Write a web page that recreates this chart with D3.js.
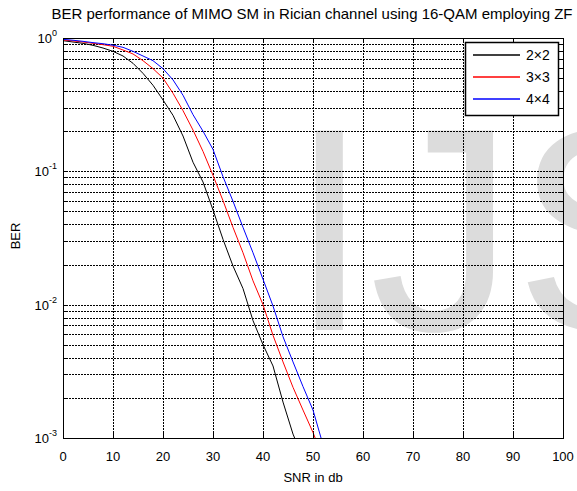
<!DOCTYPE html>
<html>
<head>
<meta charset="utf-8">
<script src="https://cdn.jsdelivr.net/npm/d3@7"></script>
<style>
  body { margin: 0; background: #fff; }
  svg { display: block; font-family: "Liberation Sans", Arial, sans-serif; }
</style>
</head>
<body>
<div id="vis"></div>
<script>
// BER vs SNR, MIMO SM en canal Rician (16-QAM, ZF)
const width = 577, height = 491;

// datos
const SNR = [0,2,4,6,8,10,12,14,16,18,20,22,24,26,28,30,32,34,36,38,40,42,44,46,48,50,52];
const BER_2x2 = [0.955,0.933,0.912,0.881,0.841,0.794,0.733,0.646,0.543,0.442,0.343,0.263,0.184,
  0.117,0.0832,0.0513,0.0309,0.0195,0.0132,0.00759,0.00501,0.00347,0.00186,0.00107,0.000708];
const BER_3x3 = [0.966,0.951,0.933,0.912,0.891,0.867,0.813,0.759,0.676,0.589,0.501,0.385,0.285,
  0.204,0.141,0.0933,0.0603,0.0380,0.0245,0.0151,0.0100,0.00589,0.00372,0.00240,0.00162,0.00110,0.000708];
const BER_4x4 = [0.977,0.962,0.944,0.923,0.906,0.883,0.851,0.794,0.733,0.676,0.589,0.485,0.372,
  0.266,0.200,0.146,0.0912,0.0596,0.0380,0.0245,0.0155,0.00977,0.00575,0.00372,0.00243,0.00162,0.000891];
const LABELS = ["2×2", "3×3", "4×4"];
const X_TICKS = [0,10,20,30,40,50,60,70,80,90,100];
const Y_TICKS = [1, 0.1, 0.01, 0.001];
const Y_EXP = ["0", "-1", "-2", "-3"];

const series = [BER_2x2, BER_3x3, BER_4x4].map((v, i) => ({
  name: LABELS[i],
  pts: v.map((b, j) => [SNR[j], b])
}));

const color = d3.scaleOrdinal().domain(LABELS).range(["#000000", "#ff0000", "#0000ff"]);

const L = 63, R = 563, T = 38, B = 438;
const x = d3.scaleLinear().domain([0, 100]).range([L, R]);
const y = d3.scaleLog().domain([1e-3, 1]).range([B, T]);

const svg = d3.select("#vis").append("svg")
  .attr("width", width).attr("height", height)
  .attr("viewBox", [0, 0, width, height]);

svg.append("rect").attr("width", width).attr("height", height).attr("fill", "#fff");

// marca de agua
svg.append("text")
  .attr("x", 289).attr("y", 330)
  .attr("font-size", 290)
  .attr("fill", "#dcdcdc")
  .text("IJSER");

// rejilla
const minor = [];
[0.001, 0.01, 0.1].forEach(d => { for (let k = 2; k <= 9; k++) minor.push(d * k); });
const yGrid = Y_TICKS.concat(minor);

const gGrid = svg.append("g")
  .attr("stroke", "#000").attr("stroke-width", 1)
  .attr("stroke-dasharray", "2,1").attr("shape-rendering", "crispEdges");

gGrid.selectAll("line.h").data(yGrid).enter().append("line")
  .attr("class", "h")
  .attr("x1", L).attr("x2", R)
  .attr("y1", d => Math.round(y(d)) + 0.5).attr("y2", d => Math.round(y(d)) + 0.5);

gGrid.selectAll("line.v").data(X_TICKS.slice(1, -1)).enter().append("line")
  .attr("class", "v")
  .attr("y1", T).attr("y2", B)
  .attr("x1", d => Math.round(x(d)) + 0.5).attr("x2", d => Math.round(x(d)) + 0.5);

// curvas
svg.append("clipPath").attr("id", "clip")
  .append("rect").attr("x", L).attr("y", T).attr("width", R - L).attr("height", B - T);

const line = d3.line().x(d => x(d[0])).y(d => y(d[1]));

svg.append("g").attr("clip-path", "url(#clip)")
  .selectAll("path").data(series).enter().append("path")
  .attr("d", d => line(d.pts))
  .attr("fill", "none")
  .attr("stroke", d => color(d.name))
  .attr("stroke-width", 1);

// ejes (caja con ticks hacia dentro)
const gAx = svg.append("g").attr("stroke", "#000").attr("shape-rendering", "crispEdges");
gAx.append("rect")
  .attr("x", L + 0.5).attr("y", T + 0.5)
  .attr("width", R - L).attr("height", B - T)
  .attr("fill", "none").attr("stroke-width", 1);

const tk = 5;
X_TICKS.forEach(d => {
  const px = Math.round(x(d)) + 0.5;
  gAx.append("line").attr("x1", px).attr("x2", px).attr("y1", B).attr("y2", B - tk);
  gAx.append("line").attr("x1", px).attr("x2", px).attr("y1", T).attr("y2", T + tk);
});
yGrid.forEach(d => {
  const py = Math.round(y(d)) + 0.5;
  const len = Y_TICKS.includes(d) ? tk : 3;
  gAx.append("line").attr("x1", L).attr("x2", L + len).attr("y1", py).attr("y2", py);
  gAx.append("line").attr("x1", R).attr("x2", R - len).attr("y1", py).attr("y2", py);
});

// etiquetas de ticks
svg.append("g").selectAll("text").data(X_TICKS).enter().append("text")
  .attr("x", d => x(d)).attr("y", 461)
  .attr("text-anchor", "middle").attr("font-size", 13)
  .text(d => d);

const yl = svg.append("g").selectAll("text").data(Y_TICKS).enter().append("text")
  .attr("x", 57).attr("y", d => y(d) + 5)
  .attr("text-anchor", "end").attr("font-size", 13);
yl.append("tspan").text("10");
yl.append("tspan").attr("dy", -7).attr("font-size", 9).text((d, i) => Y_EXP[i]);

// títulos
svg.append("text")
  .attr("x", 312).attr("y", 19)
  .attr("text-anchor", "middle").attr("font-size", 15)
  .text("BER performance of MIMO SM in Rician channel using 16-QAM employing ZF");

svg.append("text")
  .attr("x", 313).attr("y", 482)
  .attr("text-anchor", "middle").attr("font-size", 13)
  .text("SNR in db");

svg.append("text")
  .attr("transform", "translate(20,236) rotate(-90)")
  .attr("text-anchor", "middle").attr("font-size", 13)
  .text("BER");

// leyenda
const lg = svg.append("g").attr("transform", "translate(465,42)");
lg.append("rect")
  .attr("x", 0.5).attr("y", 0.5).attr("width", 93).attr("height", 73)
  .attr("fill", "#fff").attr("stroke", "#000").attr("stroke-width", 1.5);

const item = lg.selectAll("g.it").data(LABELS).enter().append("g")
  .attr("class", "it")
  .attr("transform", (_, i) => `translate(0, ${13 + i * 22})`);

item.append("line")
  .attr("x1", 8).attr("x2", 55).attr("y1", 0).attr("y2", 0)
  .attr("stroke", d => color(d)).attr("stroke-width", 1.3);

item.append("text")
  .attr("x", 61).attr("y", 5)
  .attr("font-size", 14)
  .text(d => d);
</script>
</body>
</html>
